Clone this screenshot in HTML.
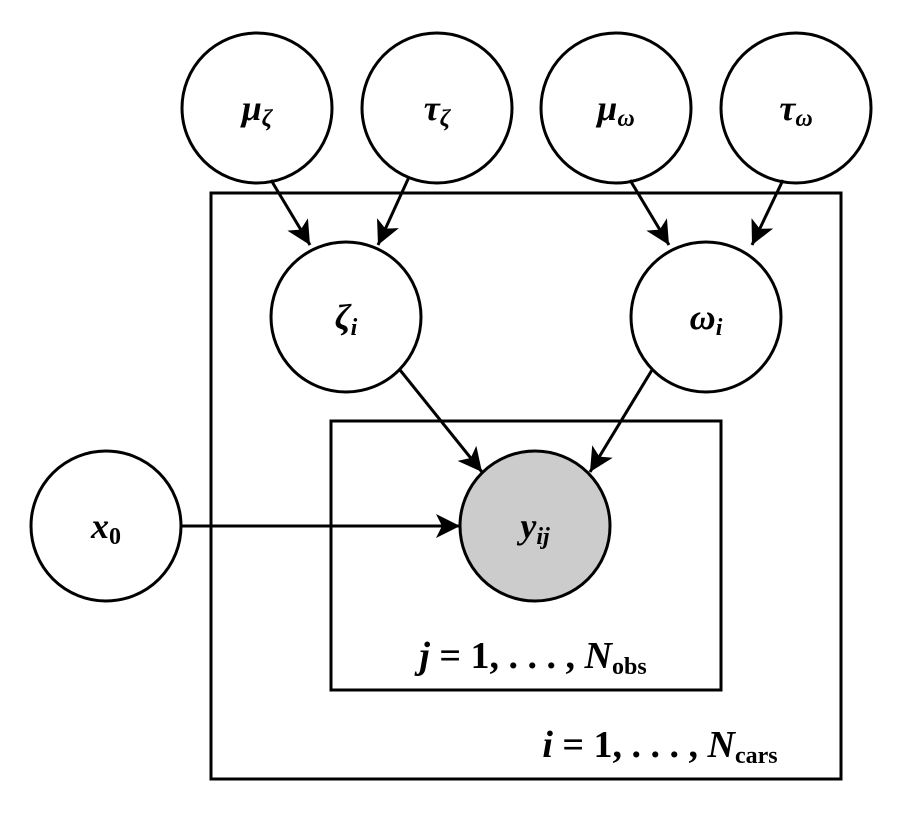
<!DOCTYPE html>
<html><head><style>body{margin:0;background:#fff}svg{display:block}</style></head><body>
<svg width="903" height="813" viewBox="0 0 903 813" xmlns="http://www.w3.org/2000/svg">
<defs>
<marker id="a" markerUnits="userSpaceOnUse" markerWidth="30" markerHeight="30" refX="24" refY="12" orient="auto">
<path d="M24,12 L0,0 L6,12 L0,24 Z" fill="#000"/>
</marker>
</defs>
<g fill="none" stroke="#000" stroke-width="3">
<rect x="211" y="193" width="630" height="586"/>
<rect x="331" y="421" width="390" height="269"/>
</g>
<g stroke="#000" stroke-width="3" fill="#fff">
<circle cx="257" cy="108" r="75"/>
<circle cx="437" cy="108" r="75"/>
<circle cx="616" cy="108" r="75"/>
<circle cx="796" cy="108" r="75"/>
<circle cx="346" cy="317" r="75"/>
<circle cx="706" cy="317" r="75"/>
<circle cx="106" cy="526" r="75"/>
<circle cx="535" cy="526" r="75" fill="#cccccc"/>
</g>
<g stroke="#000" stroke-width="3" marker-end="url(#a)">
<line x1="271" y1="180" x2="310" y2="245"/>
<line x1="409" y1="177" x2="378" y2="245"/>
<line x1="630" y1="180" x2="669" y2="245"/>
<line x1="783" y1="180" x2="752" y2="245"/>
<line x1="400" y1="370" x2="482" y2="472"/>
<line x1="652" y1="370" x2="590" y2="472"/>
<line x1="181" y1="526" x2="460" y2="526"/>
</g>
<g font-family="Liberation Serif, serif" font-style="italic" font-weight="bold" font-size="36" text-anchor="middle">
<text x="257" y="120">μ<tspan font-size="24" dy="6">ζ</tspan></text>
<text x="437" y="120">τ<tspan font-size="24" dy="6">ζ</tspan></text>
<text x="616" y="120">μ<tspan font-size="24" dy="6">ω</tspan></text>
<text x="796" y="120">τ<tspan font-size="24" dy="6">ω</tspan></text>
<text x="346" y="329">ζ<tspan font-size="24" dy="6">i</tspan></text>
<text x="706" y="329">ω<tspan font-size="24" dy="6">i</tspan></text>
<text x="106" y="538">x<tspan font-size="24" dy="6" font-style="normal">0</tspan></text>
<text x="535" y="538">y<tspan font-size="24" dy="6">ij</tspan></text>
<text x="533" y="668" font-size="38">j <tspan font-style="normal">= 1, . . . , </tspan>N<tspan font-size="24" dy="6" font-style="normal">obs</tspan></text>
<text x="660" y="757" font-size="38">i <tspan font-style="normal">= 1, . . . , </tspan>N<tspan font-size="24" dy="6" font-style="normal">cars</tspan></text>
</g>
</svg>
</body></html>
